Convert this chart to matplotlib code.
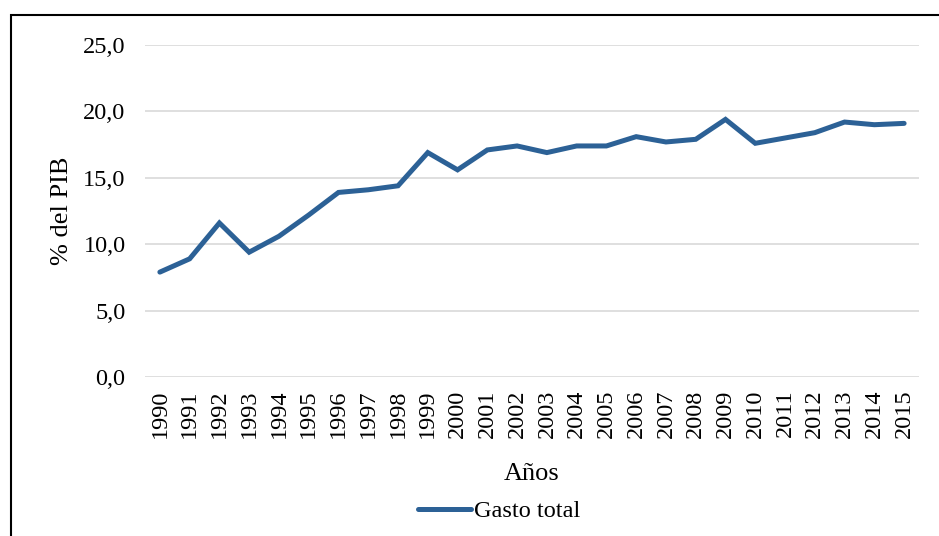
import matplotlib.pyplot as plt
from matplotlib.patches import Rectangle

# Data
years = [str(y) for y in range(1990, 2016)]
gasto_total = [7.9, 8.9, 11.6, 9.4, 10.6, 12.2, 13.9, 14.1, 14.4, 16.9,
               15.6, 17.1, 17.4, 16.9, 17.4, 17.4, 18.1, 17.7, 17.9, 19.4,
               17.6, 18.0, 18.4, 19.2, 19.0, 19.1]
y_ticks = [0, 5, 10, 15, 20, 25]

plt.rcParams['font.family'] = ['Liberation Serif', 'DejaVu Serif']

fig = plt.figure(figsize=(9.39, 5.36), dpi=100)
ax = fig.add_axes([0.1544, 0.2966, 0.8243, 0.6194])

x = list(range(len(years)))
ax.plot(x, gasto_total, color='#2C6196', linewidth=3.6,
        solid_joinstyle='miter', solid_capstyle='round', label='Gasto total')

ax.set_xlim(-0.5, len(years) - 0.5)
ax.set_ylim(0, 25)
ax.set_yticks(y_ticks)
ax.set_yticklabels([f'{v:.1f}'.replace('.', ',') for v in y_ticks], fontsize=17.5)
ax.set_xticks(x)
ax.set_xticklabels(years, rotation=90, fontsize=17.5)
ax.tick_params(axis='y', length=0, pad=14)
ax.tick_params(axis='x', length=0, pad=9)
ax.grid(axis='y', color='#D9D9D9', linewidth=1.2)
ax.set_axisbelow(True)
for s in ax.spines.values():
    s.set_visible(False)

ax.set_ylabel('% del PIB', fontsize=19, labelpad=7)
ax.set_xlabel('Años', fontsize=19, labelpad=18)

fig.legend(loc='center', bbox_to_anchor=(499 / 939, 1 - 511 / 536), frameon=False,
           fontsize=17.5, handlelength=2.2, handletextpad=0.1)

# outer chart border (runs off the right and bottom edges)
fig.patches.append(Rectangle((11 / 939, -0.1), 1.2, 1 - 15 / 536 + 0.1,
                             transform=fig.transFigure, fill=False,
                             edgecolor='black', linewidth=1.5))

fig.savefig('out.png', dpi=100)
